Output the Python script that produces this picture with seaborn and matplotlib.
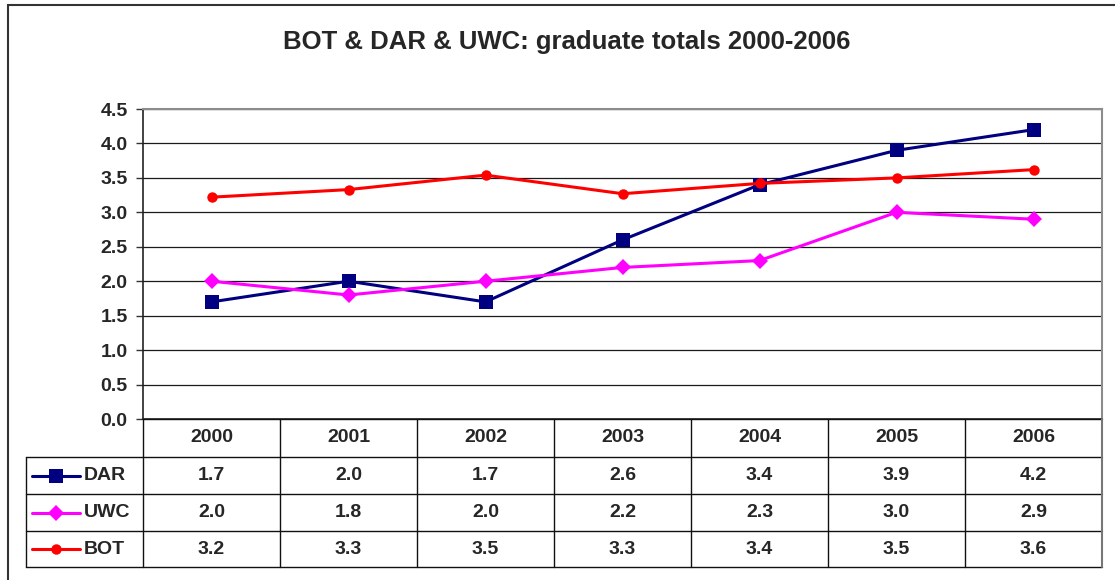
import matplotlib
matplotlib.use("Agg")
import matplotlib.pyplot as plt
import seaborn as sns
import pandas as pd
import numpy as np
from matplotlib.lines import Line2D
from matplotlib.patches import Rectangle

# ---- data ----
years = ["2000", "2001", "2002", "2003", "2004", "2005", "2006"]
series_names = ["DAR", "UWC", "BOT"]
dar = [1.7, 2.0, 1.7, 2.6, 3.4, 3.9, 4.2]
uwc = [2.0, 1.8, 2.0, 2.2, 2.3, 3.0, 2.9]
bot = [3.22, 3.33, 3.54, 3.27, 3.42, 3.50, 3.62]
yticks = [0.0, 0.5, 1.0, 1.5, 2.0, 2.5, 3.0, 3.5, 4.0, 4.5]
title = "BOT & DAR & UWC: graduate totals 2000-2006"

colors = {"DAR": "#000080", "UWC": "#FF00FF", "BOT": "#FF0000"}
markers = {"DAR": "s", "UWC": "D", "BOT": "o"}
msizes = {"DAR": 10, "UWC": 8.5, "BOT": 7.5}

values = {"DAR": dar, "UWC": uwc, "BOT": bot}

sns.set_style("white")
plt.rcParams['font.family'] = ['Liberation Sans', 'DejaVu Sans']

W, H = 1115, 580
fig = plt.figure(figsize=(W / 100, H / 100), dpi=100)

def fx(px):
    return px / W

def fy(py):
    return 1 - py / H

FS = 14  # tick / table font size

# outer chart border (clipped on right/bottom)
fig.patches.append(Rectangle((fx(8), fy(590)), fx(1120) - fx(8), fy(5) - fy(590),
                             transform=fig.transFigure, fill=False,
                             edgecolor="#333333", linewidth=1.5, clip_on=False))

# main plot axes
L, R, T, B = 143, 1102, 109, 419
ax = fig.add_axes([fx(L), fy(B), fx(R) - fx(L), fy(T) - fy(B)])

rows = []
for s in series_names:
    for i, v in enumerate(values[s]):
        rows.append({"pos": i, "value": v, "series": s})
df = pd.DataFrame(rows)

for s in series_names:
    sub = df[df["series"] == s]
    sns.lineplot(data=sub, x="pos", y="value", color=colors[s], marker=markers[s],
                 markersize=msizes[s], markeredgewidth=0, linewidth=2.2,
                 ax=ax, legend=False, sort=False, zorder=3)

ax.set_xlim(-0.5, len(years) - 0.5)
ax.set_ylim(0, 4.5)
ax.set_yticks(yticks)
ax.set_yticklabels([f"{t:.1f}" for t in yticks], fontsize=FS, fontweight="bold")
ax.set_xticks([])
ax.set_xlabel("")
ax.set_ylabel("")
for t in yticks[1:]:
    ax.axhline(t, color="#1a1a1a", linewidth=0.9, zorder=1)
ax.tick_params(axis="y", direction="out", length=5, width=1, color="#333333", pad=6, left=True)
for side in ["top", "right"]:
    ax.spines[side].set_visible(True)
    ax.spines[side].set_color("#8c8c8c")
    ax.spines[side].set_linewidth(1.5)
ax.spines["left"].set_color("#222222")
ax.spines["left"].set_linewidth(1.2)
ax.spines["bottom"].set_color("#222222")
ax.spines["bottom"].set_linewidth(1.2)

fig.text(fx(567), fy(42), title, ha="center", va="center",
         fontsize=18.5, fontweight="bold")

# data table axes (pixel-based layout, same column scale as main axes)
TB = 567
tax = fig.add_axes([fx(L), fy(TB), fx(R) - fx(L), fy(B) - fy(TB)])
tax.set_xlim(-0.5, len(years) - 0.5)
tax.set_ylim(TB, B)
tax.axis("off")
col_w = (R - L) / len(years)
left_x = -0.5 - (L - 26) / col_w
row_edges = [419, 457, 494, 531, 567]
lc = "#111111"
lw = 1.0
# horizontal lines
tax.plot([-0.5, 6.5], [row_edges[0]] * 2, color=lc, lw=lw, clip_on=False)
for yy in row_edges[1:]:
    tax.plot([left_x, 6.5], [yy] * 2, color=lc, lw=lw, clip_on=False)
# vertical lines
tax.plot([left_x, left_x], [row_edges[1], row_edges[-1]], color=lc, lw=lw, clip_on=False)
for k in range(len(years)):
    tax.plot([k - 0.5, k - 0.5], [row_edges[0], row_edges[-1]], color=lc, lw=lw, clip_on=False)
tax.plot([6.5, 6.5], [row_edges[0], row_edges[-1]], color="#777777", lw=1.5, clip_on=False)

for i, y in enumerate(years):
    tax.text(i, (row_edges[0] + row_edges[1]) / 2, y, ha="center", va="center",
             fontsize=FS, fontweight="bold")
for r, s in enumerate(series_names):
    yc = (row_edges[r + 1] + row_edges[r + 2]) / 2
    for i, v in enumerate(values[s]):
        tax.text(i, yc, f"{v:.1f}", ha="center", va="center", fontsize=FS, fontweight="bold")
    x0 = left_x + 6 / col_w
    x1 = left_x + 54 / col_w
    tax.add_line(Line2D([x0, x1], [yc, yc], color=colors[s], lw=2.2, clip_on=False))
    tax.add_line(Line2D([(x0 + x1) / 2], [yc], color=colors[s], marker=markers[s],
                        markersize=msizes[s], markeredgewidth=0, clip_on=False))
    tax.text(left_x + 58 / col_w, yc, s, ha="left", va="center", fontsize=FS, fontweight="bold")

fig.savefig("out.png", dpi=100)
